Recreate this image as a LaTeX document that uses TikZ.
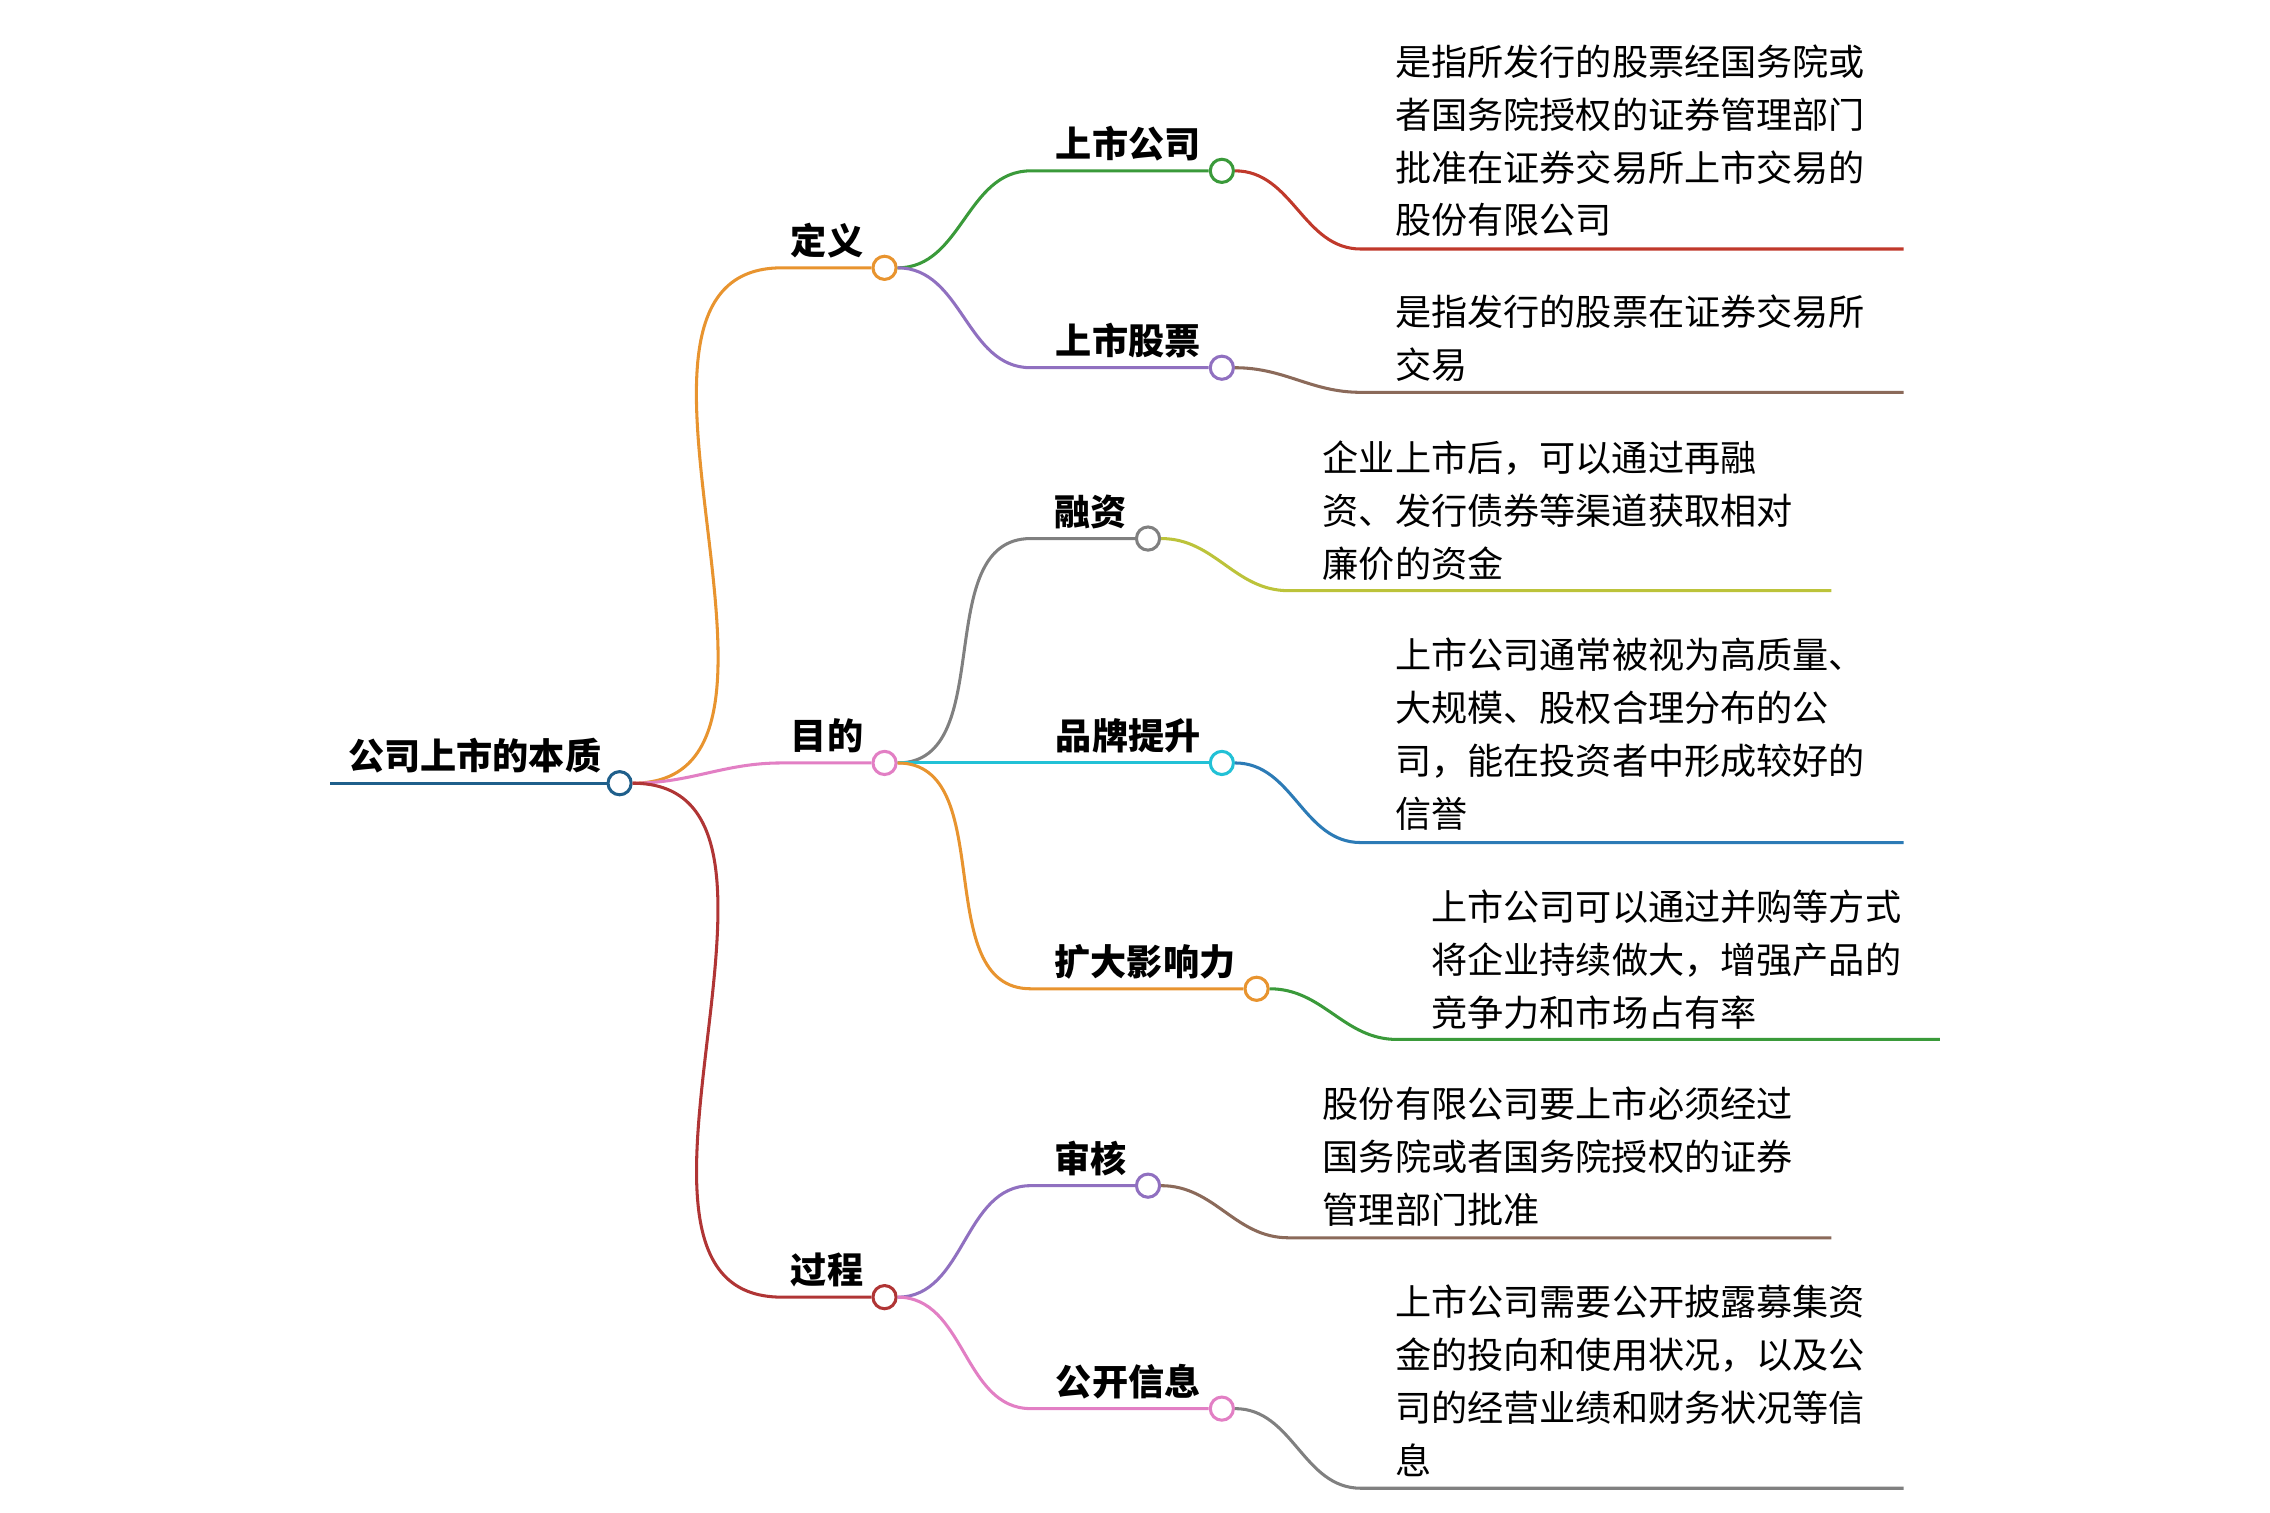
\documentclass[tikz,border=0pt]{standalone}
\usepackage{fontspec}
\setmainfont{Noto Sans CJK SC}
\usetikzlibrary{positioning}
\definecolor{cRoot}{HTML}{1F5F8B}
\definecolor{cOrange}{HTML}{E8942F}
\definecolor{cPink}{HTML}{E27FC4}
\definecolor{cDarkRed}{HTML}{B03535}
\definecolor{cGreen}{HTML}{3A9A3A}
\definecolor{cPurple}{HTML}{9070C0}
\definecolor{cGray}{HTML}{808080}
\definecolor{cCyan}{HTML}{22C1D6}
\definecolor{cYellow}{HTML}{BCC33A}
\definecolor{cRed}{HTML}{C0392B}
\definecolor{cBrown}{HTML}{8B6A5A}
\definecolor{cBlue}{HTML}{2C7BB6}
\tikzset{
    dot/.style={circle, draw=#1, fill=white, line width=0.6pt, minimum size=0.16cm, inner sep=0pt},
    wire/.style={draw=#1, line width=0.6pt},
    lab/.style={font=\fontsize{7.1}{10.4}\selectfont\bfseries, inner sep=0pt},
    leaf/.style={font=\fontsize{7.1}{10.4}\selectfont, align=left, anchor=north west, inner sep=0pt}
}
\begin{document}
\begin{tikzpicture}[x=0.01cm, y=-0.01cm]
		\useasboundingbox (0,0) rectangle (1568,1045);

		% Circles
		\node[dot=cRoot] (root) at (428,541) {};
		\node[dot=cOrange] (def) at (611,185) {};
		\node[dot=cPink] (aim) at (611,527) {};
		\node[dot=cDarkRed] (proc) at (611,896) {};
		\node[dot=cGreen] (lc) at (844,118) {};
		\node[dot=cPurple] (ls) at (844,254) {};
		\node[dot=cGray] (fin) at (793,372) {};
		\node[dot=cCyan] (brand) at (844,527) {};
		\node[dot=cOrange] (infl) at (868,683) {};
		\node[dot=cPurple] (audit) at (793,819) {};
		\node[dot=cPink] (info) at (844,973) {};

		% Labels
		\node[lab, anchor=south east] (troot) at (416,535) {公司上市的本质};
		\node[lab, anchor=south east] at (597,179) {定义};
		\node[lab, anchor=south east] at (597,521) {目的};
		\node[lab, anchor=south east] at (597,890) {过程};
		\node[lab, anchor=south east] at (830,112) {上市公司};
		\node[lab, anchor=south east] at (830,248) {上市股票};
		\node[lab, anchor=south east] at (779,366) {融资};
		\node[lab, anchor=south east] at (830,521) {品牌提升};
		\node[lab, anchor=south east] at (854,677) {扩大影响力};
		\node[lab, anchor=south east] at (779,813) {审核};
		\node[lab, anchor=south east] at (830,967) {公开信息};

		% Root
		\coordinate (r0) at (228,541);
		\draw[wire=cRoot] (r0) -- (root.west);
		\draw[wire=cOrange] (root.east) to[out=0,in=180] (540,185) -- (def.west);
		\draw[wire=cPink] (root.east) to[out=0,in=180] (540,527) -- (aim.west);
		\draw[wire=cDarkRed] (root.east) to[out=0,in=180] (540,896) -- (proc.west);

		% Second level
		\draw[wire=cGreen] (def.east) to[out=0,in=180] (712,118) -- (lc.west);
		\draw[wire=cPurple] (def.east) to[out=0,in=180] (712,254) -- (ls.west);
		\draw[wire=cGray] (aim.east) to[out=0,in=180] (712,372) -- (fin.west);
		\draw[wire=cCyan] (aim.east) -- (brand.west);
		\draw[wire=cOrange] (aim.east) to[out=0,in=180] (712,683) -- (infl.west);
		\draw[wire=cPurple] (proc.east) to[out=0,in=180] (712,819) -- (audit.west);
		\draw[wire=cPink] (proc.east) to[out=0,in=180] (712,973) -- (info.west);

		% Leaves
		\coordinate (e1) at (1315,172);
		\coordinate (e2) at (1315,271);
		\coordinate (e3) at (1265,408);
		\coordinate (e4) at (1315,582);
		\coordinate (e5) at (1340,718);
		\coordinate (e6) at (1265,855);
		\coordinate (e7) at (1315,1028);
		\draw[wire=cRed] (lc.east) to[out=0,in=180] (940,172) -- (e1);
		\draw[wire=cBrown] (ls.east) to[out=0,in=180] (940,271) -- (e2);
		\draw[wire=cYellow] (fin.east) to[out=0,in=180] (890,408) -- (e3);
		\draw[wire=cBlue] (brand.east) to[out=0,in=180] (940,582) -- (e4);
		\draw[wire=cGreen] (infl.east) to[out=0,in=180] (965,718) -- (e5);
		\draw[wire=cBrown] (audit.east) to[out=0,in=180] (890,855) -- (e6);
		\draw[wire=cGray] (info.east) to[out=0,in=180] (940,1028) -- (e7);

		\node[leaf] (t1) at (963,30) {是指所发行的股票经国务院或\\者国务院授权的证券管理部门\\批准在证券交易所上市交易的\\股份有限公司};
		\node[leaf] (t2) at (963,203) {是指发行的股票在证券交易所\\交易};
		\node[leaf] (t3) at (913,304) {企业上市后，可以通过再融\\资、发行债券等渠道获取相对\\廉价的资金};
		\node[leaf] (t4) at (963,440) {上市公司通常被视为高质量、\\大规模、股权合理分布的公\\司，能在投资者中形成较好的\\信誉};
		\node[leaf] (t5) at (988,614) {上市公司可以通过并购等方式\\将企业持续做大，增强产品的\\竞争力和市场占有率};
		\node[leaf] (t6) at (913,750) {股份有限公司要上市必须经过\\国务院或者国务院授权的证券\\管理部门批准};
		\node[leaf] (t7) at (963,887) {上市公司需要公开披露募集资\\金的投向和使用状况，以及公\\司的经营业绩和财务状况等信\\息};
	\end{tikzpicture}
\end{document}
